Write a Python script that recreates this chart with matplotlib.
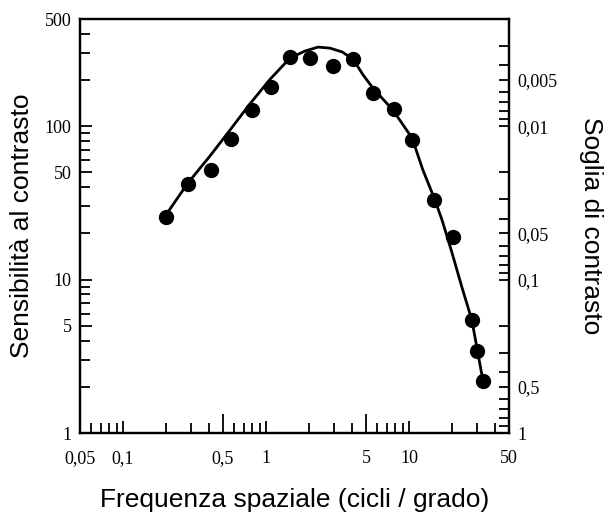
import numpy as np
import matplotlib
matplotlib.use("Agg")
import matplotlib.pyplot as plt
from matplotlib.ticker import FixedLocator, NullFormatter, LogLocator

# measured contrast sensitivity (dots)
freq = [0.20, 0.284, 0.41, 0.57, 0.80, 1.08, 1.47, 2.03, 2.94, 4.06,
        5.6, 7.85, 10.5, 15.0, 20.3, 27.5, 29.9, 32.9]
sens = [25.6, 42.0, 51.8, 82.5, 127, 180, 283, 280, 247, 274,
        165, 129, 81.3, 33.0, 18.9, 5.45, 3.42, 2.18]

# fitted curve
curve_f = [0.206, 0.284, 0.405, 0.56, 0.77, 1.07, 1.47, 1.87, 2.31, 2.80,
           3.40, 4.06, 4.77, 5.6, 7.7, 10.5, 12.5, 15.0, 17.0, 20.0,
           23.4, 27.5, 33.4]
curve_s = [27.6, 42.6, 63.9, 94.5, 139.6, 203, 278, 309, 328, 323,
           305, 274, 216, 177, 127.6, 83.8, 51.8, 34.0, 24.5, 14.9,
           8.95, 5.45, 2.02]

x_ticks = [0.05, 0.1, 0.5, 1, 5, 10, 50]
x_labels = ["0,05", "0,1", "0,5", "1", "5", "10", "50"]
y_ticks = [1, 5, 10, 50, 100, 500]
y_labels = ["1", "5", "10", "50", "100", "500"]
# right axis: contrast threshold = 1 / sensitivity
r_ticks = [1, 0.5, 0.1, 0.05, 0.01, 0.005]
r_labels = ["1", "0,5", "0,1", "0,05", "0,01", "0,005"]
r_minor = [0.9, 0.8, 0.7, 0.6, 0.4, 0.3, 0.2,
           0.09, 0.08, 0.07, 0.06, 0.04, 0.03, 0.02,
           0.009, 0.008, 0.007, 0.006, 0.004, 0.003]

serif = "Liberation Serif"
sans = "Liberation Sans"

fig = plt.figure(figsize=(6.04, 5.15), dpi=100)
ax = fig.add_axes([0.1325, 0.1592, 0.7102, 0.8039])

ax.plot(curve_f, curve_s, color="black", lw=2.0, zorder=2)
ax.plot(freq, sens, "o", color="black", ms=10, zorder=3)

ax.set_xscale("log")
ax.set_yscale("log")
ax.set_xlim(0.05, 50)
ax.set_ylim(1, 500)

for s in ax.spines.values():
    s.set_linewidth(1.6)

ax.xaxis.set_major_locator(FixedLocator(x_ticks))
ax.set_xticklabels(x_labels, fontfamily=serif, fontsize=13)
ax.xaxis.set_minor_locator(LogLocator(base=10, subs=np.arange(2, 10)))
ax.xaxis.set_minor_formatter(NullFormatter())
ax.yaxis.set_major_locator(FixedLocator(y_ticks))
ax.set_yticklabels(y_labels, fontfamily=serif, fontsize=13)
ax.yaxis.set_minor_locator(LogLocator(base=10, subs=np.arange(2, 10)))
ax.yaxis.set_minor_formatter(NullFormatter())

ax.tick_params(which="major", direction="in", width=1.3, length=8.5)
ax.tick_params(which="minor", direction="in", width=1.3, length=7.5)
ax.tick_params(axis="x", which="both", pad=12)
ax.tick_params(axis="y", which="both", pad=6)
for t in ax.xaxis.get_major_ticks():
    if t.get_loc() in (0.5, 5):
        t.tick1line.set_markersize(14)

tw = ax.twinx()
tw.set_yscale("log")
tw.set_ylim(ax.get_ylim())
tw.yaxis.set_major_locator(FixedLocator([1 / r for r in r_ticks]))
tw.set_yticklabels(r_labels, fontfamily=serif, fontsize=13)
tw.yaxis.set_minor_locator(FixedLocator([1 / r for r in r_minor]))
tw.yaxis.set_minor_formatter(NullFormatter())
tw.tick_params(which="both", direction="in", width=1.3, length=7.5, pad=6)
for s in tw.spines.values():
    s.set_linewidth(1.6)

ax.set_xlabel("Frequenza spaziale (cicli / grado)", fontfamily=sans, fontsize=19, labelpad=15)
ax.set_ylabel("Sensibilità al contrasto", fontfamily=sans, fontsize=19, labelpad=8)
tw.set_ylabel("Soglia di contrasto", fontfamily=sans, fontsize=19, rotation=-90, labelpad=33)

fig.savefig("out.png", dpi=100)
